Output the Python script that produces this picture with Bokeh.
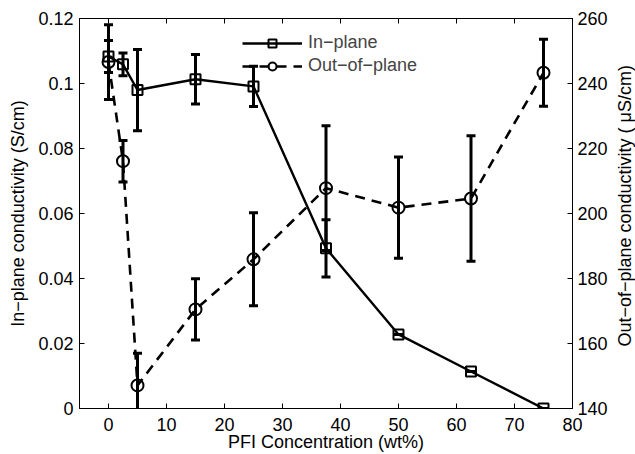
import math
from bokeh.plotting import figure
from bokeh.layouts import row
from bokeh.models import (Range1d, LinearAxis, Whisker, TeeHead, ColumnDataSource,
                          Legend, LegendItem, FixedTicker, Label)
from bokeh.embed import file_html
from bokeh.resources import INLINE

# ---- data ----
pfi_wt = [0, 2.5, 5, 15, 25, 37.5, 50, 62.5, 75]
in_plane = [0.1083, 0.1059, 0.0980, 0.1013, 0.0991, 0.0493, 0.0228, 0.0114, 0.0]
in_plane_err = [0.0049, 0.0035, 0.0125, 0.0076, 0.0062, 0.0088, 0.0, 0.0, 0.0]
out_plane = [246.6, 216.1, 147.1, 170.5, 185.9, 207.8, 201.8, 204.6, 243.3]
out_plane_err = [11.5, 6.4, 9.9, 9.4, 14.3, 19.2, 15.6, 19.3, 10.3]
x_ticks = [0, 10, 20, 30, 40, 50, 60, 70, 80]
left_ticks = [0, 0.02, 0.04, 0.06, 0.08, 0.1, 0.12]
right_ticks = [140, 160, 180, 200, 220, 240, 260]
right_title = "Out\u2212of\u2212plane conductivity ( \u03bcS/cm)"

FONT = "Liberation Sans"
FS = "18px"

p = figure(width=610, height=454, output_backend="svg", toolbar_location=None,
           x_range=Range1d(-5, 80), y_range=Range1d(0, 0.12),
           min_border_left=79, min_border_right=36, min_border_top=18, min_border_bottom=46)
p.extra_y_ranges = {"right": Range1d(140, 260)}
p.xgrid.visible = False
p.ygrid.visible = False
p.outline_line_color = "black"
p.outline_line_width = 1
p.background_fill_color = "white"
p.border_fill_color = "white"

def style_axis(ax, ticks):
    ax.ticker = FixedTicker(ticks=ticks)
    ax.major_tick_in = 5
    ax.major_tick_out = 0
    ax.minor_tick_line_color = None
    ax.axis_line_color = "black"
    ax.major_tick_line_color = "black"
    ax.major_label_text_font = FONT
    ax.major_label_text_font_size = FS
    ax.major_label_text_color = "black"
    ax.axis_label_text_font = FONT
    ax.axis_label_text_font_size = FS
    ax.axis_label_text_font_style = "normal"
    ax.axis_label_text_color = "black"

style_axis(p.xaxis[0], x_ticks)
p.xaxis[0].axis_label = "PFI Concentration (wt%)"
p.xaxis[0].major_label_standoff = 9
p.xaxis[0].axis_label_standoff = -2
style_axis(p.yaxis[0], left_ticks)
p.yaxis[0].axis_label = "In\u2212plane conductivity (S/cm)"
p.yaxis[0].major_label_standoff = 6
p.yaxis[0].axis_label_standoff = 7

right = LinearAxis(y_range_name="right")
style_axis(right, right_ticks)
right.major_label_standoff = 5
p.add_layout(right, "right")

top = LinearAxis()
style_axis(top, x_ticks)
top.major_label_text_font_size = "1px"
top.major_label_text_color = None
top.major_label_standoff = 0
p.add_layout(top, "above")

src_in = ColumnDataSource(dict(x=pfi_wt, y=in_plane,
                               lo=[a - b for a, b in zip(in_plane, in_plane_err)],
                               hi=[a + b for a, b in zip(in_plane, in_plane_err)]))
src_out = ColumnDataSource(dict(x=pfi_wt, y=out_plane,
                                lo=[a - b for a, b in zip(out_plane, out_plane_err)],
                                hi=[a + b for a, b in zip(out_plane, out_plane_err)]))

l_in = p.line("x", "y", source=src_in, line_color="black", line_width=2.4)
s_in = p.scatter("x", "y", source=src_in, marker="square", size=10, fill_color=None,
                 line_color="black", line_width=2)
l_out = p.line("x", "y", source=src_out, y_range_name="right", line_color="black",
               line_width=2.6, line_dash="10 7")
s_out = p.scatter("x", "y", source=src_out, y_range_name="right", marker="circle", size=12,
                  fill_color=None, line_color="black", line_width=2)

for src, rn in ((src_in, "default"), (src_out, "right")):
    w = Whisker(source=src, base="x", upper="hi", lower="lo", dimension="height",
                line_color="black", line_width=3, y_range_name=rn,
                upper_head=TeeHead(size=9, line_width=3, line_color="black"),
                lower_head=TeeHead(size=9, line_width=3, line_color="black"))
    p.add_layout(w)

legend = Legend(items=[LegendItem(label="In\u2212plane", renderers=[l_in, s_in]),
                       LegendItem(label="Out\u2212of\u2212plane", renderers=[l_out, s_out])],
                location=(163, 332), glyph_width=60, glyph_height=20, label_height=20,
                spacing=2, padding=0, margin=0, label_standoff=6,
                label_text_font=FONT, label_text_font_size=FS,
                border_line_color=None, background_fill_alpha=0)
p.add_layout(legend)

# narrow side panel holding the right axis title, reading bottom-to-top
side = figure(width=25, height=454, output_backend="svg", toolbar_location=None,
              x_range=Range1d(0, 25), y_range=Range1d(0, 454),
              min_border=0, min_border_left=0, min_border_right=0,
              min_border_top=0, min_border_bottom=0)
side.axis.visible = False
side.xgrid.visible = False
side.ygrid.visible = False
side.outline_line_color = None
side.background_fill_color = "white"
side.border_fill_color = "white"
side.add_layout(Label(x=14, y=236, text=right_title, angle=math.pi / 2,
                      text_align="center", text_baseline="middle",
                      text_font=FONT, text_font_size=FS, text_color="black"))

layout = row(p, side, spacing=0)
open("out.html", "w").write(file_html(layout, INLINE))
